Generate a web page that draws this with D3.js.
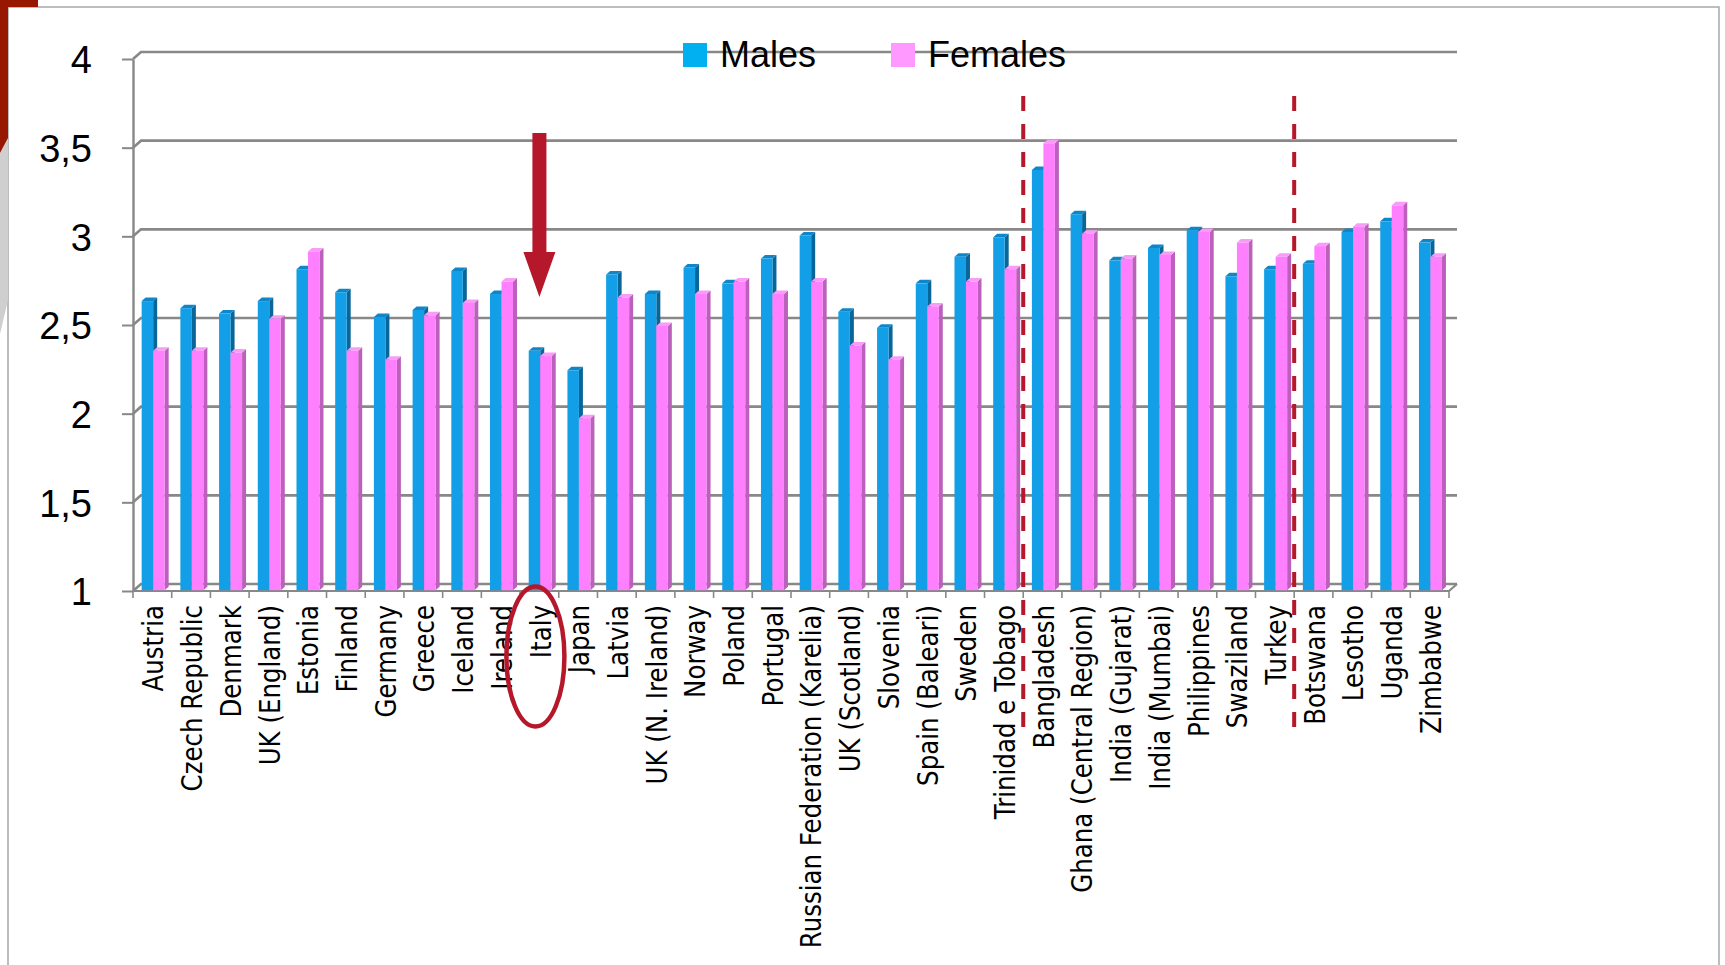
<!DOCTYPE html>
<html>
<head>
<meta charset="utf-8">
<script src="https://cdn.jsdelivr.net/npm/d3@7"></script>
<style>
  html, body { margin: 0; padding: 0; background: #ffffff; }
  svg { display: block; }
</style>
</head>
<body>
<svg id="chart" width="1725" height="965"></svg>
<script>
// ---- data ----
const categories = [
  "Austria", "Czech Republic", "Denmark", "UK (England)", "Estonia", "Finland",
  "Germany", "Greece", "Iceland", "Ireland", "Italy", "Japan", "Latvia",
  "UK (N. Ireland)", "Norway", "Poland", "Portugal", "Russian Federation (Karelia)",
  "UK (Scotland)", "Slovenia", "Spain (Baleari)", "Sweden", "Trinidad e Tobago",
  "Bangladesh", "Ghana (Central Region)", "India (Gujarat)", "India (Mumbai)",
  "Philippines", "Swaziland", "Turkey", "Botswana", "Lesotho", "Uganda", "Zimbabwe"
];
const males = [
  2.63, 2.59, 2.56, 2.63, 2.81, 2.68, 2.54, 2.58, 2.80, 2.67, 2.35, 2.24, 2.78,
  2.67, 2.82, 2.73, 2.87, 3.00, 2.57, 2.48, 2.73, 2.88, 2.99, 3.37, 3.12, 2.86,
  2.93, 3.03, 2.77, 2.81, 2.84, 3.02, 3.08, 2.96
];
const females = [
  2.35, 2.35, 2.34, 2.53, 2.91, 2.35, 2.30, 2.55, 2.62, 2.74, 2.32, 1.97, 2.65,
  2.49, 2.67, 2.74, 2.67, 2.74, 2.38, 2.30, 2.60, 2.74, 2.81, 3.52, 3.01, 2.87,
  2.89, 3.02, 2.96, 2.88, 2.94, 3.05, 3.17, 2.88
];
const yTicks = [1, 1.5, 2, 2.5, 3, 3.5, 4];
const seriesNames = ["Males", "Females"];
const groupStarts = ["Bangladesh", "Botswana"];   // dashed separators drawn before these
const highlighted = "Italy";

// ---- styling ----
const palette = {
  Males:   { front: "#139FE7", top: "#0E86C8", side: "#0A6598", legend: "#00B0F0" },
  Females: { front: "#FF80FF", top: "#F89CF8", side: "#BB60BB", legend: "#FF99FF" }
};
const accent = "#B5182B";
const gridColor = "#888888";

const svg = d3.select("#chart");

// oblique depth offset of the back wall relative to the front plane
const DX = 8, DY = -7;

const x = d3.scaleBand().domain(categories).range([133, 1449]).paddingInner(0).paddingOuter(0);
const sx = d3.scaleBand().domain(seriesNames).range([7.7, 30.7]);
const y = d3.scaleLinear().domain([1, 4]).range([591, 59]);

const values = { Males: males, Females: females };

// ---- slide frame ----
const frame = svg.append("g");
frame.append("path")
  .attr("d", "M8,965V7H1719V965")
  .attr("fill", "none").attr("stroke", "#A8A8A8").attr("stroke-width", 1.5);
frame.append("path")
  .attr("d", "M0,153L8,138V300L0,334Z")
  .attr("fill", "#CFCFCF");
frame.append("path")
  .attr("d", "M0,0H38V7H8V138L0,153Z")
  .attr("fill", "#981700");

// ---- back wall gridlines ----
const grid = svg.append("g");
yTicks.forEach(v => {
  const yf = y(v);
  grid.append("path")
    .attr("d", `M${x.range()[0]},${yf}L${x.range()[0] + DX},${yf + DY}H${x.range()[1] + DX}`)
    .attr("fill", "none").attr("stroke", gridColor).attr("stroke-width", 2.6);
});
// floor front edge and right corner
grid.append("path")
  .attr("d", `M${x.range()[0]},${y(1)}H${x.range()[1]}L${x.range()[1] + DX},${y(1) + DY}`)
  .attr("fill", "none").attr("stroke", gridColor).attr("stroke-width", 2.2);

// category boundary ticks
const bounds = categories.map(c => x(c)).concat([x.range()[1]]);
grid.selectAll("line.ct").data(bounds).join("line")
  .attr("class", "ct")
  .attr("x1", d => d).attr("x2", d => d)
  .attr("y1", y(1)).attr("y2", y(1) + 7)
  .attr("stroke", gridColor).attr("stroke-width", 1.6);

// ---- y axis ----
const fmt = d3.formatLocale({ decimal: ",", thousands: ".", grouping: [3], currency: ["", "€"] }).format("~g");
const yAxis = svg.append("g")
  .attr("transform", `translate(${x.range()[0]},0)`)
  .call(d3.axisLeft(y).tickValues(yTicks).tickFormat(fmt).tickSize(11).tickSizeOuter(0).tickPadding(30));
yAxis.select(".domain").attr("stroke", gridColor).attr("stroke-width", 2.4);
yAxis.selectAll(".tick line").attr("stroke", gridColor).attr("stroke-width", 2);
yAxis.selectAll(".tick text")
  .attr("fill", "#000")
  .attr("dy", "0.36em")
  .style("font-family", "'Liberation Sans', Arial, sans-serif")
  .style("font-size", "38px");

// ---- 3D columns ----
const t0 = 0.12, t1 = 0.62;
const ddx = (t1 - t0) * DX, ddy = (t1 - t0) * DY;
const bars = svg.append("g");
categories.forEach((c, i) => {
  seriesNames.forEach(s => {
    const v = values[s][i];
    const col = palette[s];
    const w = sx.bandwidth();
    const x0 = x(c) + sx(s) + t0 * DX;
    const yt = y(v) + t0 * DY;
    const yb = y(1) + t0 * DY;
    const g = bars.append("g");
    g.append("path")
      .attr("d", `M${x0 + w},${yt}L${x0 + w + ddx},${yt + ddy}V${yb + ddy}L${x0 + w},${yb}Z`)
      .attr("fill", col.side);
    g.append("path")
      .attr("d", `M${x0},${yt}H${x0 + w}L${x0 + w + ddx},${yt + ddy}H${x0 + ddx}Z`)
      .attr("fill", col.top);
    g.append("rect")
      .attr("x", x0).attr("y", yt)
      .attr("width", w).attr("height", yb - yt)
      .attr("fill", col.front);
  });
});

// ---- category labels (vertical, glyphs slightly widened) ----
svg.append("g").selectAll("text").data(categories).join("text")
  .attr("transform", d => `translate(${x(d) + x.bandwidth() / 2 + 1},605) rotate(-90) scale(1,1.15)`)
  .attr("text-anchor", "end")
  .attr("dominant-baseline", "central")
  .attr("fill", "#000")
  .style("font-family", "'DejaVu Sans', sans-serif")
  .style("font-size", "24.5px")
  .text(d => d);

// ---- group separators ----
svg.append("g").selectAll("line").data(groupStarts).join("line")
  .attr("x1", d => x(d)).attr("x2", d => x(d))
  .attr("y1", 96).attr("y2", 728)
  .attr("stroke", accent).attr("stroke-width", 4)
  .attr("stroke-dasharray", "15,13");

// ---- highlight of one country ----
const hx = x(highlighted) + x.bandwidth() / 2;
svg.append("path")
  .attr("d", `M${hx - 7},133H${hx + 7}V252H${hx + 16}L${hx},297L${hx - 16},252H${hx - 7}Z`)
  .attr("fill", accent);
svg.append("ellipse")
  .attr("cx", hx - 4).attr("cy", 656.5)
  .attr("rx", 29).attr("ry", 70)
  .attr("fill", "none").attr("stroke", accent).attr("stroke-width", 4.5);

// ---- legend ----
const legendPos = { Males: 683, Females: 891 };
const legend = svg.append("g");
seriesNames.forEach(s => {
  legend.append("rect")
    .attr("x", legendPos[s]).attr("y", 43)
    .attr("width", 24).attr("height", 24)
    .attr("fill", palette[s].legend);
  legend.append("text")
    .attr("x", legendPos[s] + 37).attr("y", 67)
    .attr("fill", "#000")
    .style("font-family", "'Liberation Sans', Arial, sans-serif")
    .style("font-size", "36px")
    .text(s);
});
</script>
</body>
</html>
